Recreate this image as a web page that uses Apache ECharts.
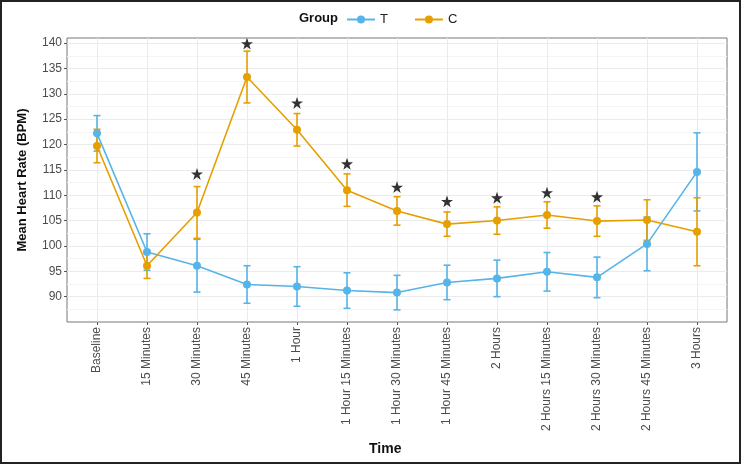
<!DOCTYPE html>
<html><head><meta charset="utf-8">
<script src="https://cdn.jsdelivr.net/npm/echarts@6/dist/echarts.min.js"></script>
<style>
html,body{margin:0;padding:0;background:#fff}
#c{width:741px;height:464px}
#f{position:absolute;left:0;top:0;width:741px;height:464px;box-sizing:border-box;border:2px solid #222;pointer-events:none}
</style>
</head><body><div id="c"></div><div id="f"></div>
<script>
const categories = ['Baseline','15 Minutes','30 Minutes','45 Minutes','1 Hour','1 Hour 15 Minutes','1 Hour 30 Minutes','1 Hour 45 Minutes','2 Hours','2 Hours 15 Minutes','2 Hours 30 Minutes','2 Hours 45 Minutes','3 Hours'];
const tMean = [122.2, 98.8, 96.1, 92.4, 92.0, 91.2, 90.8, 92.8, 93.6, 94.9, 93.8, 100.4, 114.6];
const tErr  = [3.5, 3.6, 5.2, 3.7, 3.9, 3.5, 3.4, 3.4, 3.6, 3.8, 4.0, 5.3, 7.7];
const cMean = [119.7, 96.1, 106.6, 133.3, 122.9, 111.0, 106.9, 104.3, 105.0, 106.1, 104.9, 105.1, 102.8];
const cErr  = [3.3, 2.5, 5.1, 5.1, 3.2, 3.2, 2.8, 2.4, 2.7, 2.6, 3.0, 4.0, 6.7];
const starIdx = [2, 3, 4, 5, 6, 7, 8, 9, 10];
const starVal = [114.2, 139.9, 128.2, 116.2, 111.6, 108.8, 109.5, 110.5, 109.7];
const yTicks = [90, 95, 100, 105, 110, 115, 120, 125, 130, 135, 140];
const yMinor = [87.5, 92.5, 97.5, 102.5, 107.5, 112.5, 117.5, 122.5, 127.5, 132.5, 137.5];
const xTicks = categories.map((c, i) => i);

const BLUE = '#56B4E9', ORANGE = '#E69F00';
const FONT = "'Liberation Sans', Arial, sans-serif";

function errSeries(name, mean, err, color) {
  return {
    type: 'custom', name: name, z: 2, silent: true,
    data: mean.map((m, i) => [i, m - err[i], m + err[i]]),
    renderItem: function (params, api) {
      const x = api.value(0);
      const lo = api.coord([x, api.value(1)]);
      const hi = api.coord([x, api.value(2)]);
      const w = 3.5;
      const st = { stroke: color, lineWidth: 1.6 };
      return { type: 'group', children: [
        { type: 'line', shape: { x1: lo[0], y1: lo[1], x2: hi[0], y2: hi[1] }, style: st },
        { type: 'line', shape: { x1: lo[0] - w, y1: lo[1], x2: lo[0] + w, y2: lo[1] }, style: st },
        { type: 'line', shape: { x1: hi[0] - w, y1: hi[1], x2: hi[0] + w, y2: hi[1] }, style: st }
      ]};
    }
  };
}
function lineSeries(name, mean, color) {
  return {
    type: 'line', name: name, z: 3,
    data: mean.map((m, i) => [i, m]),
    symbol: 'circle', symbolSize: 8, showSymbol: true,
    itemStyle: { color: color }, lineStyle: { color: color, width: 1.6 },
    emphasis: { disabled: true }
  };
}

const chart = echarts.init(document.getElementById('c'), null, { renderer: 'canvas' });
chart.setOption({
  animation: false,
  backgroundColor: '#fff',
  title: [
    { text: 'Group', left: 294, top: 7, textStyle: { fontFamily: FONT, fontSize: 13, fontWeight: 'bold', color: '#111' } },
    { text: 'Time', left: 364, top: 437, textStyle: { fontFamily: FONT, fontSize: 14, fontWeight: 'bold', color: '#111' } }
  ],
  legend: {
    data: ['T', 'C'], left: 341, top: 8, itemWidth: 28, itemHeight: 10, itemGap: 26,
    textStyle: { fontFamily: FONT, fontSize: 13, color: '#222' }
  },
  grid: { left: 67, right: 14, top: 38, bottom: 142, show: true, borderColor: '#777', borderWidth: 1, backgroundColor: 'transparent' },
  xAxis: {
    type: 'value', min: -0.6, max: 12.6,
    axisLine: { show: false, onZero: false },
    axisTick: { customValues: xTicks, length: 3, lineStyle: { color: '#555' } },
    axisLabel: { customValues: xTicks, rotate: 90, margin: 5, fontFamily: FONT, fontSize: 12, color: '#4d4d4d',
      formatter: v => categories[Math.round(v)] },
    splitLine: { show: true, lineStyle: { color: '#ebebeb', width: 1 } }
  },
  yAxis: [
    {
      type: 'value', min: 85, max: 141,
      axisLine: { show: false, onZero: false },
      axisTick: { customValues: yTicks, length: 3, lineStyle: { color: '#555' } },
      axisLabel: { customValues: yTicks, margin: 5, fontFamily: FONT, fontSize: 12, color: '#4d4d4d' },
      splitLine: { show: true, lineStyle: { color: '#ebebeb', width: 1 } },
      name: 'Mean Heart Rate (BPM)', nameLocation: 'middle', nameGap: 38,
      nameTextStyle: { fontFamily: FONT, fontSize: 13, fontWeight: 'bold', color: '#111' }
    },
    {
      type: 'value', min: 85, max: 141, position: 'left',
      axisLine: { show: false, onZero: false },
      axisTick: { show: false, customValues: yMinor },
      axisLabel: { show: false, customValues: yMinor },
      splitLine: { show: true, lineStyle: { color: '#f4f4f4', width: 1 } }
    }
  ],
  series: [
    errSeries('T err', tMean, tErr, BLUE),
    lineSeries('T', tMean, BLUE),
    errSeries('C err', cMean, cErr, ORANGE),
    lineSeries('C', cMean, ORANGE),
    {
      type: 'scatter', name: 'sig', z: 4, silent: true,
      symbol: 'path://M50,0 L61.8,35.3 L98.5,35.3 L68.8,57.1 L79.9,92.5 L50,70.7 L20.1,92.5 L31.2,57.1 L1.5,35.3 L38.2,35.3 Z',
      symbolSize: 12,
      itemStyle: { color: '#000' },
      data: starIdx.map((k, i) => [k, starVal[i]])
    }
  ]
});
</script>
</body></html>
